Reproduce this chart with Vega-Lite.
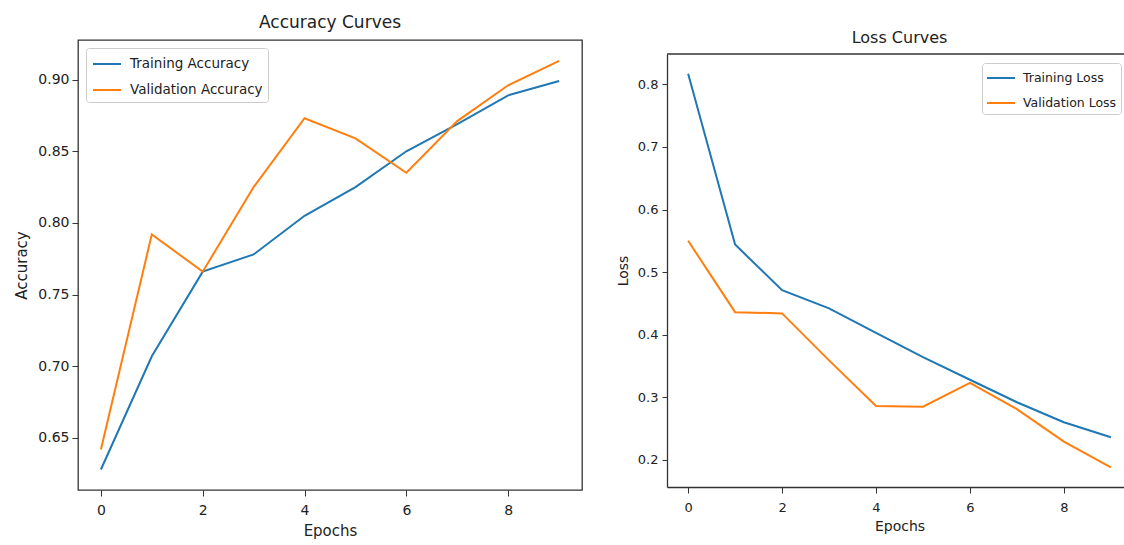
{
  "$schema": "https://vega.github.io/schema/vega-lite/v6.json",
  "padding": {"left": 14, "top": 13, "right": 0, "bottom": 0},
  "background": "white",
  "datasets": {
    "accuracy": [
      {"epoch": 0, "series": "Training Accuracy", "value": 0.628},
      {"epoch": 1, "series": "Training Accuracy", "value": 0.707},
      {"epoch": 2, "series": "Training Accuracy", "value": 0.766},
      {"epoch": 3, "series": "Training Accuracy", "value": 0.778},
      {"epoch": 4, "series": "Training Accuracy", "value": 0.805},
      {"epoch": 5, "series": "Training Accuracy", "value": 0.825},
      {"epoch": 6, "series": "Training Accuracy", "value": 0.850},
      {"epoch": 7, "series": "Training Accuracy", "value": 0.869},
      {"epoch": 8, "series": "Training Accuracy", "value": 0.889},
      {"epoch": 9, "series": "Training Accuracy", "value": 0.899},
      {"epoch": 0, "series": "Validation Accuracy", "value": 0.642},
      {"epoch": 1, "series": "Validation Accuracy", "value": 0.792},
      {"epoch": 2, "series": "Validation Accuracy", "value": 0.766},
      {"epoch": 3, "series": "Validation Accuracy", "value": 0.825},
      {"epoch": 4, "series": "Validation Accuracy", "value": 0.873},
      {"epoch": 5, "series": "Validation Accuracy", "value": 0.859},
      {"epoch": 6, "series": "Validation Accuracy", "value": 0.835},
      {"epoch": 7, "series": "Validation Accuracy", "value": 0.871},
      {"epoch": 8, "series": "Validation Accuracy", "value": 0.896},
      {"epoch": 9, "series": "Validation Accuracy", "value": 0.913}
    ],
    "loss": [
      {"epoch": 0, "series": "Training Loss", "value": 0.817},
      {"epoch": 1, "series": "Training Loss", "value": 0.544},
      {"epoch": 2, "series": "Training Loss", "value": 0.471},
      {"epoch": 3, "series": "Training Loss", "value": 0.442},
      {"epoch": 4, "series": "Training Loss", "value": 0.403},
      {"epoch": 5, "series": "Training Loss", "value": 0.364},
      {"epoch": 6, "series": "Training Loss", "value": 0.328},
      {"epoch": 7, "series": "Training Loss", "value": 0.292},
      {"epoch": 8, "series": "Training Loss", "value": 0.260},
      {"epoch": 9, "series": "Training Loss", "value": 0.236},
      {"epoch": 0, "series": "Validation Loss", "value": 0.550},
      {"epoch": 1, "series": "Validation Loss", "value": 0.436},
      {"epoch": 2, "series": "Validation Loss", "value": 0.434},
      {"epoch": 3, "series": "Validation Loss", "value": 0.359},
      {"epoch": 4, "series": "Validation Loss", "value": 0.286},
      {"epoch": 5, "series": "Validation Loss", "value": 0.285},
      {"epoch": 6, "series": "Validation Loss", "value": 0.323},
      {"epoch": 7, "series": "Validation Loss", "value": 0.281},
      {"epoch": 8, "series": "Validation Loss", "value": 0.229},
      {"epoch": 9, "series": "Validation Loss", "value": 0.188}
    ]
  },
  "spacing": 33,
  "hconcat": [
    {
      "width": 504,
      "height": 450,
      "title": {"text": "Accuracy Curves", "fontSize": 17, "offset": 8},
      "data": {"name": "accuracy"},
      "mark": {"type": "line", "strokeWidth": 2},
      "encoding": {
        "x": {
          "field": "epoch", "type": "quantitative",
          "scale": {"domain": [-0.45, 9.45], "nice": false, "zero": false},
          "axis": {"values": [0, 2, 4, 6, 8], "title": "Epochs", "labelFontSize": 14, "titleFontSize": 15, "labelPadding": 7, "titlePadding": 6}
        },
        "y": {
          "field": "value", "type": "quantitative",
          "scale": {"domain": [0.6137, 0.9276], "nice": false, "zero": false},
          "axis": {"values": [0.65, 0.7, 0.75, 0.8, 0.85, 0.9], "format": ".2f", "title": "Accuracy", "labelFontSize": 14, "titleFontSize": 15, "labelPadding": 3, "titlePadding": 8}
        },
        "color": {
          "field": "series", "type": "nominal",
          "scale": {"domain": ["Training Accuracy", "Validation Accuracy"], "range": ["#1f77b4", "#ff7f0e"]},
          "legend": {"orient": "top-left", "offset": 8, "labelFontSize": 13.5, "rowPadding": 8, "padding": 5, "symbolOffset": 5, "labelOffset": 12}
        }
      }
    },
    {
      "width": 465,
      "height": 447,
      "title": {"text": "Loss Curves", "fontSize": 16, "offset": 0, "dy": 6},
      "view": {"stroke": null},
      "layer": [
        {
          "data": {"name": "loss"},
          "mark": {"type": "line", "strokeWidth": 2},
          "encoding": {
            "x": {
              "field": "epoch", "type": "quantitative",
              "scale": {"domain": [-0.45, 9.45], "nice": false, "zero": false},
              "axis": {"values": [0, 2, 4, 6, 8], "title": "Epochs", "labelFontSize": 13, "titleFontSize": 14, "labelPadding": 8, "titlePadding": 5, "domain": true, "domainColor": "#333333", "domainWidth": 1.3}
            },
            "y": {
              "field": "value", "type": "quantitative",
              "scale": {"domain": [0.1566, 0.8485], "range": [447, 14], "nice": false, "zero": false},
              "axis": {"values": [0.2, 0.3, 0.4, 0.5, 0.6, 0.7, 0.8], "format": ".1f", "title": "Loss", "labelFontSize": 13, "titleFontSize": 14, "labelPadding": 4, "titlePadding": 7, "tickSize": 5, "domain": true, "domainColor": "#333333", "domainWidth": 1.3}
            },
            "color": {
              "field": "series", "type": "nominal",
              "scale": {"domain": ["Training Loss", "Validation Loss"], "range": ["#1f77b4", "#ff7f0e"]},
              "legend": {"orient": "none", "legendX": 315, "legendY": 23, "labelFontSize": 12.5, "rowPadding": 7, "padding": 4, "symbolOffset": 4, "labelOffset": 11}
            }
          }
        },
        {
          "data": {"values": [{}]},
          "mark": {"type": "rule", "color": "#333333", "strokeWidth": 1.3},
          "encoding": {"y": {"datum": 0.8485}}
        }
      ]
    }
  ],
  "resolve": {
    "scale": {"color": "independent", "x": "independent", "y": "independent"},
    "legend": {"color": "independent"}
  },
  "config": {
    "font": "DejaVu Sans",
    "view": {"stroke": "#333333", "strokeWidth": 1.3},
    "title": {"anchor": "middle", "baseline": "alphabetic", "fontWeight": "normal", "color": "#222222"},
    "axis": {
      "grid": false,
      "domain": false,
      "tickSize": 6,
      "tickColor": "#333333",
      "tickWidth": 1,
      "labelColor": "#222222",
      "titleColor": "#222222",
      "titleFontWeight": "normal",
      "labelFont": "DejaVu Sans",
      "titleFont": "DejaVu Sans"
    },
    "legend": {
      "title": null,
      "symbolType": "M-1.4,0H1.4",
      "symbolSize": 400,
      "symbolStrokeWidth": 2,
      "labelColor": "#222222",
      "fillColor": "rgba(255,255,255,0.8)",
      "strokeColor": "#cccccc",
      "cornerRadius": 3,
      "labelFont": "DejaVu Sans"
    }
  }
}
